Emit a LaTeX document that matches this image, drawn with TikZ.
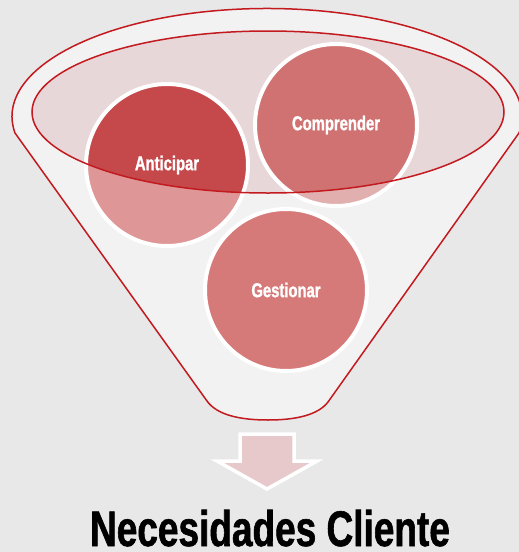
\documentclass[tikz,border=0pt]{standalone}
\usepackage{fontspec}
\newfontfamily\impactfont{Liberation Sans Bold}[FakeStretch=0.74, FakeBold=1.2]
\definecolor{bggray}{HTML}{E8E8E8}
\definecolor{funnelred}{HTML}{C21A1F}
\definecolor{funnelfill}{HTML}{F2F2F2}
\definecolor{rimfill}{HTML}{E7D7D9}
\definecolor{antin}{HTML}{C5494B}
\definecolor{antout}{HTML}{DE9696}
\definecolor{comin}{HTML}{D07272}
\definecolor{comout}{HTML}{E2AFAF}
\definecolor{gescol}{HTML}{D67979}
\definecolor{arrowpink}{HTML}{E8C9CB}

\begin{document}
\begin{tikzpicture}[x=1pt, y=-1pt,
	funnel/.style={draw=funnelred, line width=1.5pt, fill=funnelfill},
	bubble/.style={circle, draw=white, line width=4pt, minimum size=162pt, text=white, font=\impactfont\fontsize{20}{24}\selectfont}]
	\useasboundingbox (0,0) rectangle (519,552);
	\fill[bggray] (0,0) rectangle (519,552);
	\draw[funnel] (15,133) arc[start angle=171.2, end angle=368.8, x radius=255, y radius=108] -- (328,402) .. controls (318,415) and (296,420) .. (268,420) .. controls (240,420) and (217,415) .. (207,401) -- cycle;
	\coordinate (rim) at (268,112);
	\coordinate (antc) at (167,165);
	\coordinate (comc) at (336,125);
	\coordinate (gesc) at (286,290);
	\fill[rimfill] (rim) ellipse[x radius=236, y radius=81];
	\fill[antout] (antc) circle (81);
	\fill[comout] (comc) circle (81);
	\fill[gescol] (gesc) circle (81);
	\begin{scope}
		\clip (rim) ellipse[x radius=236, y radius=81];
		\fill[antin] (antc) circle (81);
		\fill[comin] (comc) circle (81);
	\end{scope}
	\node[bubble] (anticipar) at (antc) {Anticipar};
	\node[bubble] (comprender) at (comc) {Comprender};
	\node[bubble] (gestionar) at (gesc) {Gestionar};
	\draw[funnelred, line width=1.5pt] (rim) ellipse[x radius=236, y radius=81];
	\draw[white, line width=3.5pt, fill=arrowpink, line join=miter] (240,434) -- (294,434) -- (294,461) -- (317,461) -- (267,489) -- (217,461) -- (240,461) -- cycle;
	\node[anchor=base, inner sep=0pt, font=\impactfont\fontsize{50}{58}\selectfont] (needs) at (270,546) {Necesidades Cliente};
\end{tikzpicture}
\end{document}
